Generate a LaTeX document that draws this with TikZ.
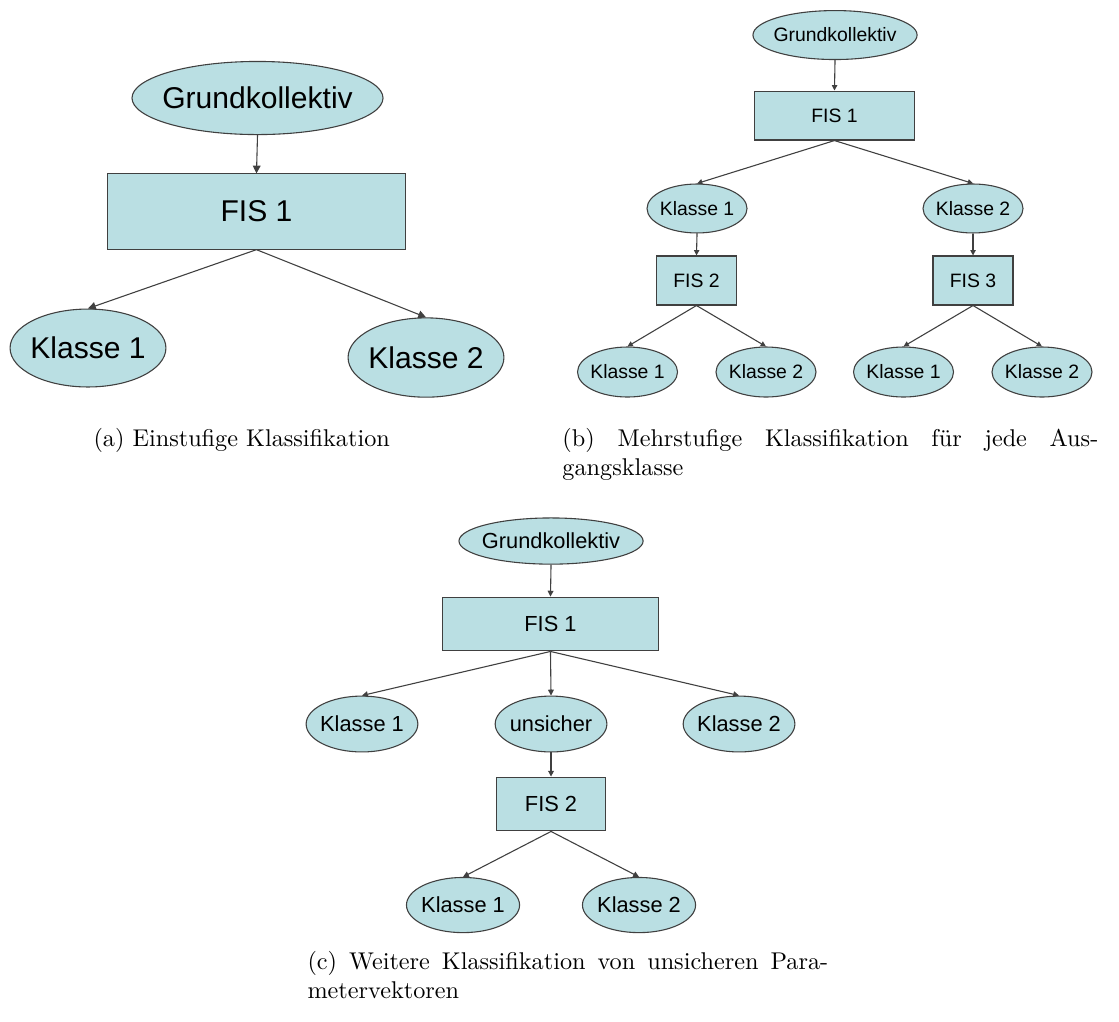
\documentclass[tikz,border=0pt]{standalone}
\usepackage{fontspec}
\setsansfont{Liberation Sans}
\usetikzlibrary{arrows.meta, shapes.geometric}
\definecolor{zfill}{RGB}{186, 223, 227}
\definecolor{zline}{RGB}{64, 64, 64}
\newcommand{\fonta}{\sffamily\fontsize{12.4}{14}\selectfont}
\newcommand{\fontb}{\sffamily\fontsize{8}{9.6}\selectfont}
\newcommand{\fontc}{\sffamily\fontsize{9}{10.8}\selectfont}

\begin{document}
\begin{tikzpicture}[
  oval/.style={ellipse, draw=zline, fill=zfill, inner sep=0pt, line width=0.45pt,
               execute at begin node={\hbox to 0pt\bgroup\hss},
               execute at end node={\hss\egroup}},
  fisbox/.style={rectangle, draw=zline, fill=zfill, inner sep=0pt, line width=0.45pt},
  arr/.style={-{Triangle[length=#1, width=#1]}, draw=zline, line width=0.45pt},
  arr/.default=2.4pt,
  subcap/.style={inner sep=0pt, font=\normalsize, align=justify}
]
\useasboundingbox (0,0) rectangle (16.2255,-14.8045);

% (a) Einstufige Klassifikation
\node[oval, minimum width=3.64cm, minimum height=1.06cm, font=\fonta] (ga) at (3.734,-1.421) {Grundkollektiv};
\node[fisbox, minimum width=4.31cm, minimum height=1.09cm, font=\fonta] (fa) at (3.719,-3.067) {FIS 1};
\node[oval, minimum width=2.26cm, minimum height=1.13cm, font=\fonta] (ka1) at (1.276,-5.046) {Klasse 1};
\node[oval, minimum width=2.26cm, minimum height=1.15cm, font=\fonta] (ka2) at (6.177,-5.184) {Klasse 2};

\draw[arr=3.2pt] (ga.south) -- (fa.north);
\draw[arr=3.2pt] (fa.south) -- (ka1.north);
\draw[arr=3.2pt] (fa.south) -- (ka2.north);

\node[subcap, anchor=base west] (capa) at (1.349,-6.467) {(a) Einstufige Klassifikation};

% (b) Mehrstufige Klassifikation
\node[oval, minimum width=2.38cm, minimum height=0.71cm, font=\fontb] (gb) at (12.108,-0.508) {Grundkollektiv};
\node[fisbox, minimum width=2.31cm, minimum height=0.71cm, font=\fontb] (fb) at (12.100,-1.675) {FIS 1};
\node[oval, minimum width=1.45cm, minimum height=0.71cm, font=\fontb] (kb1) at (10.107,-3.023) {Klasse 1};
\node[oval, minimum width=1.45cm, minimum height=0.71cm, font=\fontb] (kb2) at (14.109,-3.023) {Klasse 2};
\node[fisbox, minimum width=1.16cm, minimum height=0.71cm, font=\fontb] (fb2) at (10.099,-4.067) {FIS 2};
\node[fisbox, minimum width=1.16cm, minimum height=0.71cm, font=\fontb] (fb3) at (14.109,-4.067) {FIS 3};
\node[oval, minimum width=1.45cm, minimum height=0.725cm, font=\fontb] (kb11) at (9.099,-5.394) {Klasse 1};
\node[oval, minimum width=1.45cm, minimum height=0.725cm, font=\fontb] (kb12) at (11.107,-5.394) {Klasse 2};
\node[oval, minimum width=1.45cm, minimum height=0.725cm, font=\fontb] (kb21) at (13.101,-5.394) {Klasse 1};
\node[oval, minimum width=1.45cm, minimum height=0.725cm, font=\fontb] (kb22) at (15.109,-5.394) {Klasse 2};

\draw[arr=2.2pt] (gb.south) -- (fb.north);
\draw[arr=2.2pt] (fb.south) -- (kb1.north);
\draw[arr=2.2pt] (fb.south) -- (kb2.north);
\draw[arr=2.2pt] (kb1.south) -- (fb2.north);
\draw[arr=2.2pt] (kb2.south) -- (fb3.north);
\draw[arr=2.2pt] (fb2.south) -- (kb11.north);
\draw[arr=2.2pt] (fb2.south) -- (kb12.north);
\draw[arr=2.2pt] (fb3.south) -- (kb21.north);
\draw[arr=2.2pt] (fb3.south) -- (kb22.north);

\node[subcap, anchor=north west, text width=7.77cm] (capb) at (8.149,-6.202)
  {(b) Mehrstufige Klassifikation f\"ur jede Aus-\linebreak gangsklasse};

% (c) Weitere Klassifikation
\node[oval, minimum width=2.67cm, minimum height=0.67cm, font=\fontc] (gc) at (7.990,-7.845) {Grundkollektiv};
\node[fisbox, minimum width=3.12cm, minimum height=0.78cm, font=\fontc] (fc) at (7.982,-9.048) {FIS 1};
\node[oval, minimum width=1.62cm, minimum height=0.81cm, font=\fontc] (kc1) at (5.249,-10.498) {Klasse 1};
\node[oval, minimum width=1.62cm, minimum height=0.81cm, font=\fontc] (uc) at (7.990,-10.498) {unsicher};
\node[oval, minimum width=1.62cm, minimum height=0.81cm, font=\fontc] (kc2) at (10.716,-10.498) {Klasse 2};
\node[fisbox, minimum width=1.57cm, minimum height=0.78cm, font=\fontc] (fc2) at (7.990,-11.658) {FIS 2};
\node[oval, minimum width=1.64cm, minimum height=0.80cm, font=\fontc] (kc21) at (6.714,-13.123) {Klasse 1};
\node[oval, minimum width=1.64cm, minimum height=0.80cm, font=\fontc] (kc22) at (9.266,-13.123) {Klasse 2};

\draw[arr] (gc.south) -- (fc.north);
\draw[arr] (fc.south) -- (kc1.north);
\draw[arr] (fc.south) -- (uc.north);
\draw[arr] (fc.south) -- (kc2.north);
\draw[arr] (uc.south) -- (fc2.north);
\draw[arr] (fc2.south) -- (kc21.north);
\draw[arr] (fc2.south) -- (kc22.north);

\node[subcap, anchor=north west, text width=7.55cm] (capc) at (4.452,-13.785)
  {(c) Weitere Klassifikation von unsicheren Para-\linebreak metervektoren};

\end{tikzpicture}
\end{document}
